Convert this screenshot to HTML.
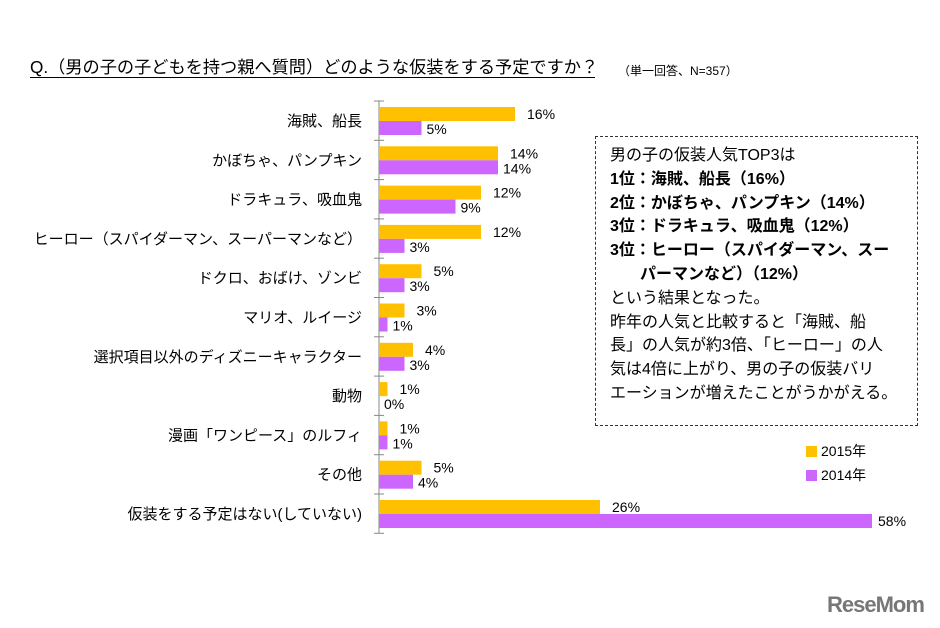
<!DOCTYPE html>
<html><head><meta charset="utf-8">
<style>
body{margin:0;background:#fff;}
#wrap{position:relative;width:940px;height:628px;overflow:hidden;font-family:"Liberation Sans","Noto Sans CJK JP",sans-serif;color:#000;}
.t{position:absolute;white-space:nowrap;}
</style></head>
<body>
<div id="wrap">
<div class="t" style="left:30px;top:57px;font-size:17.2px;border-bottom:1.5px solid #000;line-height:20px;width:565px;">Q.（男の子の子どもを持つ親へ質問）どのような仮装をする予定ですか？</div>
<div class="t" style="left:618px;top:62px;font-size:12px;">（単一回答、N=357）</div>
<svg id="chart" width="940" height="628" style="position:absolute;left:0;top:0"></svg>
<div style="position:absolute;left:595px;top:136px;width:323px;height:290px;border:1px dashed #333;box-sizing:border-box;padding:7px 0 0 14px;font-size:16px;line-height:23.8px;">
<div>男の子の仮装人気TOP3は</div>
<div style="font-weight:bold">1位：海賊、船長（16%）</div>
<div style="font-weight:bold">2位：かぼちゃ、パンプキン（14%）</div>
<div style="font-weight:bold">3位：ドラキュラ、吸血鬼（12%）</div>
<div style="font-weight:bold">3位：ヒーロー（スパイダーマン、スー</div>
<div style="font-weight:bold;padding-left:30px">パーマンなど）（12%）</div>
<div>という結果となった。</div>
<div>昨年の人気と比較すると「海賊、船</div>
<div>長」の人気が約3倍、「ヒーロー」の人</div>
<div>気は4倍に上がり、男の子の仮装バリ</div>
<div>エーションが増えたことがうかがえる。</div>
</div>
<div>
<div style="position:absolute;left:806px;top:446px;width:11px;height:11px;background:#ffc000"></div>
<div class="t" style="left:821px;top:441px;font-size:14px;">2015年</div>
<div style="position:absolute;left:806px;top:470px;width:11px;height:11px;background:#cc66ff"></div>
<div class="t" style="left:821px;top:465px;font-size:14px;">2014年</div>
</div>
<div class="t" style="left:827px;top:592px;font-size:22px;font-weight:bold;color:#777;letter-spacing:-1px;">ReseMom</div>
</div>
<script>
const categories=["海賊、船長","かぼちゃ、パンプキン","ドラキュラ、吸血鬼","ヒーロー（スパイダーマン、スーパーマンなど）","ドクロ、おばけ、ゾンビ","マリオ、ルイージ","選択項目以外のディズニーキャラクター","動物","漫画「ワンピース」のルフィ","その他","仮装をする予定はない(していない)"];
const v2015=[16,14,12,12,5,3,4,1,1,5,26];
const v2014=[5,14,9,3,3,1,3,0,1,4,58];
const NS="http://www.w3.org/2000/svg";
const svg=document.getElementById('chart');
const x0=379, pxPer=8.5, top0=101, pitch=39.3, bh=14;
const xs=v=>x0+v*pxPer;
const yRow=i=>top0+i*pitch;
function mk(tag,attrs){const e=document.createElementNS(NS,tag);for(const k in attrs)e.setAttribute(k,attrs[k]);svg.appendChild(e);return e;}
const axis=mk('line',{x1:x0,y1:top0,x2:x0,y2:top0+categories.length*pitch,stroke:'#888','stroke-width':1});


for(let i=0;i<=categories.length;i++){
 const t=mk('line',{x1:x0-5,y1:yRow(i),x2:x0+5,y2:yRow(i),stroke:'#888'});
 
 
}
categories.forEach((c,i)=>{
 const y=yRow(i)+6;
 const lb=mk('text',{x:362,y:y+19,'text-anchor':'end','font-size':15});
 lb.textContent=c;
 
 
 const b1=mk('rect',{x:x0,y:y,width:xs(v2015[i])-x0,height:bh,fill:'#ffc000'});
 
 
 const b2=mk('rect',{x:x0,y:y+bh,width:xs(v2014[i])-x0,height:bh,fill:'#cc66ff'});
 
 
 const l1=mk('text',{x:xs(v2015[i])+12,y:y+12,'font-size':14});
 l1.textContent=v2015[i]+'%';
 
 
 const l2=mk('text',{x:xs(v2014[i])+(i==10?6:5),y:y+bh+(i==10?12:13),'font-size':14});
 l2.textContent=v2014[i]+'%';
 
 
});
</script>
</body></html>
